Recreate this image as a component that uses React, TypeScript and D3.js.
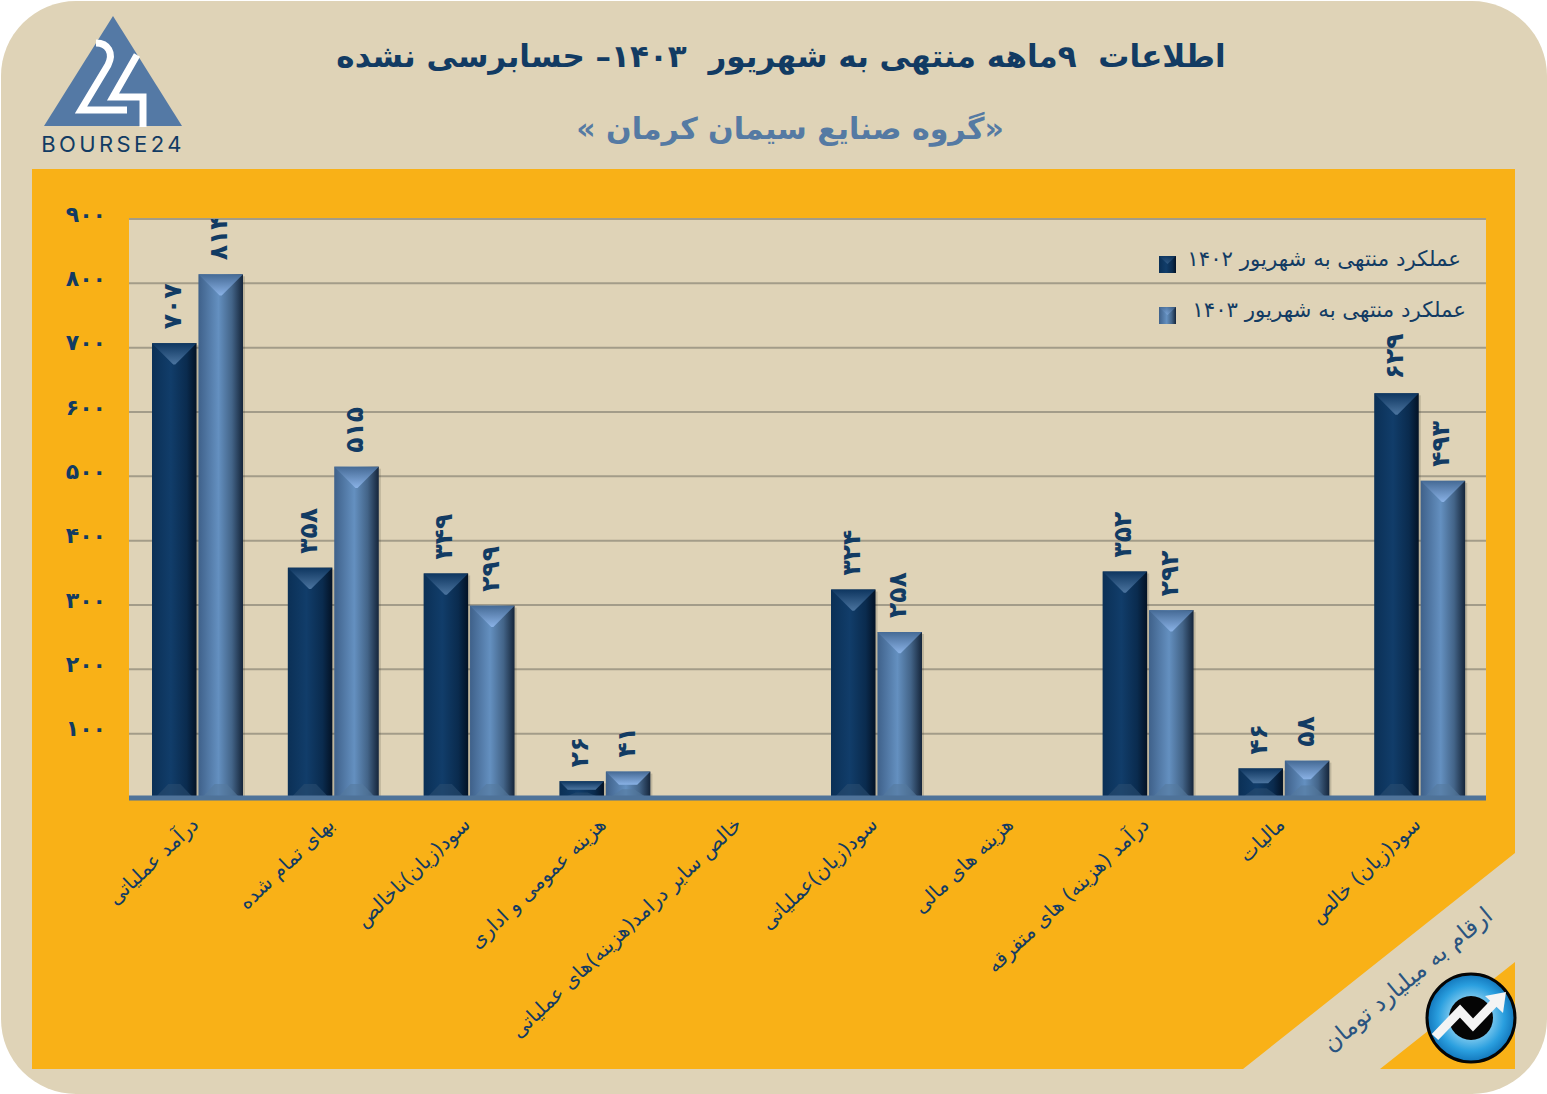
import React from 'react';
import * as d3 from 'd3';

const categories = [
  'درآمد عملیاتی',
  'بهای تمام شده',
  'سود(زیان)ناخالص',
  'هزینه عمومی و اداری',
  'خالص سایر درامد(هزینه)های عملیاتی',
  'سود(زیان)عملیاتی',
  'هزینه های مالی',
  'درآمد (هزینه) های متفرقه',
  'مالیات',
  'سود(زیان) خالص',
];
const values1402 = [707, 358, 349, 26, 0, 324, 0, 352, 46, 629];
const values1403 = [814, 515, 299, 41, 0, 258, 0, 292, 58, 493];
const yTicks = [100, 200, 300, 400, 500, 600, 700, 800, 900];
const seriesNames = ['عملکرد منتهی به شهریور ۱۴۰۲', 'عملکرد منتهی به شهریور ۱۴۰۳'];

const TAN = '#dfd3b7';
const ORANGE = '#f9b117';
const NAVY = '#123b63';
const FONT = '"DejaVu Sans", sans-serif';

const plot = { left: 129, right: 1486, top: 219, bottom: 798 };
const x0 = d3.scaleBand<string>().domain(categories).range([130, 1488]);
const y = d3.scaleLinear().domain([0, 900]).range([plot.bottom, plot.top]);
const x1 = d3.scaleBand<string>().domain(['a', 'b']).range([22, 113]).paddingInner(0.04);

const toFa = (n: number) => String(n).replace(/\d/g, d => '۰۱۲۳۴۵۶۷۸۹'[+d]);

function Bar({ x, value, kind }: { x: number; value: number; kind: 'a' | 'b' }) {
  if (!value) return null;
  const w = x1.bandwidth();
  const top = y(value);
  const h = plot.bottom - top;
  const b = Math.min(w / 2 - 1, h / 2);
  const c = Math.min(14, h / 3);
  const mid = x + w / 2;
  return (
    <g>
      <rect x={x + w} y={top + 2} width={2} height={h - 2} fill="#2a2a20" opacity={0.18} />
      <rect x={x} y={top} width={w} height={h} fill={`url(#body-${kind})`} />
      <polygon
        points={`${x},${top} ${x + w},${top} ${x + w - b},${top + b} ${x + b},${top + b}`}
        fill={`url(#cap-${kind})`}
      />
      <polygon
        points={`${x + 3},${plot.bottom} ${x + w - 3},${plot.bottom} ${mid + 6},${plot.bottom - c} ${mid - 6},${plot.bottom - c}`}
        fill={kind === 'a' ? '#2a4c70' : '#557a9f'}
        opacity={0.6}
      />
    </g>
  );
}

export default function App() {
  return (
    <svg
      width={1547}
      height={1094}
      style={{ position: 'absolute', left: 0, top: 0, display: 'block', background: '#fff' }}
    >
      <defs>
        <linearGradient id="body-a">
          <stop offset="0" stopColor="#0b3056" />
          <stop offset="0.42" stopColor="#113d6a" />
          <stop offset="0.78" stopColor="#0a2b4e" />
          <stop offset="1" stopColor="#031225" />
        </linearGradient>
        <linearGradient id="body-b">
          <stop offset="0" stopColor="#3f618a" />
          <stop offset="0.45" stopColor="#6490c0" />
          <stop offset="0.75" stopColor="#436488" />
          <stop offset="1" stopColor="#15253a" />
        </linearGradient>
        <linearGradient id="cap-a" x1="0" y1="0" x2="0" y2="1">
          <stop offset="0" stopColor="#0e3660" />
          <stop offset="1" stopColor="#4b749f" />
        </linearGradient>
        <linearGradient id="cap-b" x1="0" y1="0" x2="0" y2="1">
          <stop offset="0" stopColor="#456a95" />
          <stop offset="1" stopColor="#8ab2e6" />
        </linearGradient>
        <radialGradient id="badge">
          <stop offset="0.45" stopColor="#7cc8ee" />
          <stop offset="0.75" stopColor="#2a9fdf" />
          <stop offset="1" stopColor="#1276bb" />
        </radialGradient>
        <clipPath id="plot-clip">
          <rect x={plot.left} y={plot.top} width={plot.right - plot.left} height={plot.bottom - plot.top} />
        </clipPath>
      </defs>

      <rect x={1} y={1} width={1546} height={1093} rx={75} fill={TAN} />

      {/* orange panel with the diagonal band cut out */}
      <path
        d="M32,169 H1515 V853 L1243,1069 H32 Z M1515,962 V1069 H1380 Z"
        fill={ORANGE}
      />

      {/* logo */}
      <polygon points="113,16 182,126 44,126" fill="#5479a5" />
      <path d="M96,43 C108,43 114,53 108,65 L81,110 H127" fill="none" stroke="#fff" strokeWidth={7} />
      <path d="M137,55 L113,97 H143 V127" fill="none" stroke="#fff" strokeWidth={7} />
      <text x={113} y={152} textAnchor="middle" fontFamily="Inter, sans-serif" fontSize={22} letterSpacing={3.4} fill={NAVY}>
        BOURSE24
      </text>

      {/* titles */}
      <text x={781} y={67} direction="rtl" textAnchor="middle" fontFamily={FONT} fontWeight="bold" fontSize={31} fill={NAVY} style={{ whiteSpace: 'pre' }}>
        اطلاعات  ۹ماهه منتهی به شهریور  ۱۴۰۳– حسابرسی نشده
      </text>
      <text x={790} y={139} direction="rtl" textAnchor="middle" fontFamily={FONT} fontWeight="bold" fontSize={30} fill="#557aa3">
        «گروه صنایع سیمان کرمان »
      </text>

      {/* plot */}
      <rect x={plot.left} y={plot.top} width={plot.right - plot.left} height={plot.bottom - plot.top} fill={TAN} />
      {yTicks.map(t => (
        <g key={t}>
          <line x1={plot.left} x2={plot.right} y1={y(t)} y2={y(t)} stroke="#a39c89" strokeWidth={2} />
          <text x={106} y={y(t) - 5} dominantBaseline="central" textAnchor="end" fontFamily={FONT} fontWeight="bold" fontSize={22} letterSpacing={-0.8} fill={NAVY}>
            {toFa(t)}
          </text>
        </g>
      ))}

      {categories.map((c, i) => {
        const gx = x0(c)!;
        const center = gx + x0.bandwidth() / 2;
        const xa = gx + x1('a')!;
        const xb = gx + x1('b')!;
        const w = x1.bandwidth();
        return (
          <g key={c}>
            <Bar x={xa} value={values1402[i]} kind="a" />
            <Bar x={xb} value={values1403[i]} kind="b" />
            <g clipPath="url(#plot-clip)">
              {values1402[i] > 0 && (
                <text
                  transform={`translate(${xa + w / 2 - 2},${y(values1402[i]) - 14}) rotate(-90)`}
                  dominantBaseline="central"
                  fontFamily={FONT}
                  fontWeight="bold"
                  fontSize={25}
                  fill={NAVY}
                >
                  {toFa(values1402[i])}
                </text>
              )}
              {values1403[i] > 0 && (
                <text
                  transform={`translate(${xb + w / 2 - 2},${y(values1403[i]) - 14}) rotate(-90)`}
                  dominantBaseline="central"
                  fontFamily={FONT}
                  fontWeight="bold"
                  fontSize={25}
                  fill={NAVY}
                >
                  {toFa(values1403[i])}
                </text>
              )}
            </g>
            <text
              transform={`translate(${center - 3},${plot.bottom + 23}) rotate(-43.5)`}
              direction="rtl"
              textAnchor="start"
              dominantBaseline="central"
              fontFamily={FONT}
              fontSize={20}
              fill={NAVY}
            >
              {c}
            </text>
          </g>
        );
      })}

      <line x1={plot.left} x2={plot.right} y1={plot.bottom} y2={plot.bottom} stroke="#4f7399" strokeWidth={5} />

      {/* legend */}
      {seriesNames.map((name, i) => {
        const kind = i === 0 ? 'a' : 'b';
        const ly = 264 + i * 51;
        return (
          <g key={name}>
            <rect x={1159} y={ly - 8} width={17} height={17} fill={`url(#body-${kind})`} />
            <polygon
              points={`1159,${ly - 8} 1176,${ly - 8} 1167.5,${ly}`}
              fill={`url(#cap-${kind})`}
              opacity={0.55}
            />
            <text x={i === 0 ? 1461 : 1466} y={ly - 6} direction="rtl" textAnchor="start" dominantBaseline="central" fontFamily={FONT} fontSize={21.3} fill={NAVY}>
              {name}
            </text>
          </g>
        );
      })}

      {/* note */}
      <text
        transform="translate(1489,912) rotate(-39.5)"
        direction="rtl"
        textAnchor="start"
        dominantBaseline="central"
        fontFamily={FONT}
        fontSize={23.5}
        fill="#2a5480"
      >
        ارقام به میلیارد تومان
      </text>

      {/* badge */}
      <circle cx={1471} cy={1018} r={44} fill="url(#badge)" stroke="#050505" strokeWidth={3} />
      <circle cx={1471} cy={1018} r={22} fill="#050505" />
      <polyline points="1435,1037 1460,1011 1473,1025 1495,1002" fill="none" stroke="#f4f4f4" strokeWidth={9} />
      <polygon points="1485,996 1506,992 1503,1013" fill="#f4f4f4" />
    </svg>
  );
}
